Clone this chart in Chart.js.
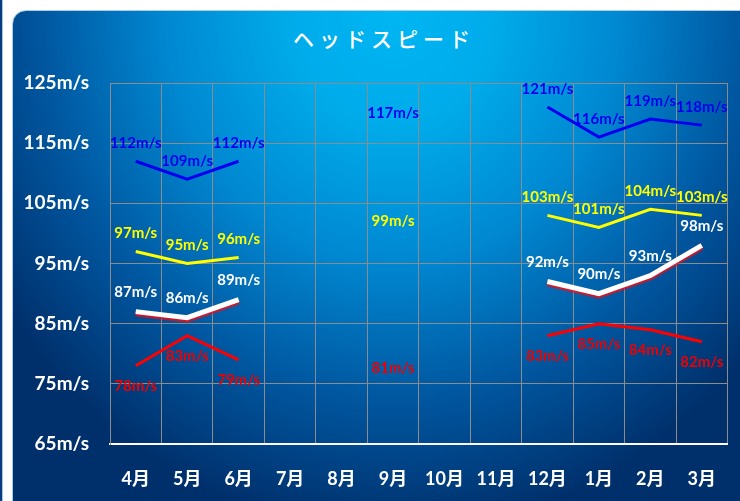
<!DOCTYPE html>
<html>
<head>
<meta charset="utf-8">
<script src="https://cdn.jsdelivr.net/npm/chart.js@4.4.0/dist/chart.umd.min.js"></script>
<style>
  html,body{margin:0;padding:0;background:#fff;overflow:hidden;}
  #wrap{position:relative;width:740px;height:501px;overflow:hidden;background:#fff;}
  #side{position:absolute;left:-12px;top:-10px;width:14px;height:540px;background:#0a3a80;border-right:1px solid #9cc8ee;border-radius:0 10px 10px 0;}
  #card{position:absolute;left:12px;top:10px;width:760px;height:520px;border-radius:14px;border:1px solid #a9cdee;
    background:radial-gradient(ellipse 62% 100% at 50% 0%, #00b6f3 0%, #00abea 22%, #0088d1 48%, #00569f 75%, #00306c 100%);}
  #title{position:absolute;left:0;width:768px;top:23px;text-align:center;color:#fff;font:500 21px 'Noto Sans CJK JP',sans-serif;letter-spacing:5px;}
  canvas{position:absolute;left:0;top:0;}
</style>
</head>
<body>
<div id="wrap">
  <div id="side"></div>
  <div id="card"></div>
  <div id="title">ヘッドスピード</div>
  <canvas id="hs_chart" width="740" height="501"></canvas>
</div>
<script>
/* ---- data ---- */
const months = ['4月','5月','6月','7月','8月','9月','10月','11月','12月','1月','2月','3月'];
const blueVals   = [112,109,112,null,null,117,null,null,121,116,119,118];
const yellowVals = [ 97, 95, 96,null,null, 99,null,null,103,101,104,103];
const whiteVals  = [ 87, 86, 89,null,null,null,null,null, 92, 90, 93, 98];
const redVals    = [ 78, 83, 79,null,null, 81,null,null, 83, 85, 84, 82];
const yMin = 65, yMax = 125, yStep = 10;

Chart.defaults.font.family = "Lato, 'Noto Sans CJK JP', sans-serif";

// value labels above/below each point
const valueLabels = {
  id:'valueLabels',
  afterDatasetsDraw(chart){
    const ctx = chart.ctx;
    ctx.save();
    ctx.font = 'bold 15px Lato, sans-serif';
    ctx.textAlign = 'center';
    ctx.textBaseline = 'middle';
    chart.data.datasets.forEach((ds,i)=>{
      const meta = chart.getDatasetMeta(i);
      ctx.fillStyle = ds.labelColor;
      meta.data.forEach((pt,j)=>{
        const v = ds.data[j];
        if(v===null) return;
        ctx.fillText(v+'m/s', pt.x, pt.y + ds.labelDy);
      });
    });
    ctx.restore();
  }
};

// red shadow under the white line
const whiteShadow = {
  id:'whiteShadow',
  beforeDatasetDraw(chart, args){
    if(chart.data.datasets[args.index].shadow){
      const ctx = chart.ctx;
      ctx.save();
      ctx.shadowColor = '#e8101a';
      ctx.shadowOffsetX = 0;
      ctx.shadowOffsetY = 2;
      ctx.shadowBlur = 2;
    }
  },
  afterDatasetDraw(chart, args){
    if(chart.data.datasets[args.index].shadow) chart.ctx.restore();
  }
};

new Chart(document.getElementById('hs_chart'), {
  type:'line',
  data:{ labels:months, datasets:[
    {data:blueVals, borderColor:'#0000f0', borderWidth:3, labelColor:'#0000f0', labelDy:-18},
    {data:yellowVals, borderColor:'#ffff00', borderWidth:3, labelColor:'#ffff00', labelDy:-18},
    {data:whiteVals, borderColor:'#ffffff', borderWidth:5, labelColor:'#ffffff', labelDy:-19, shadow:true},
    {data:redVals, borderColor:'#ff0000', borderWidth:3, labelColor:'#ee0000', labelDy:20},
  ]},
  options:{
    responsive:false, animation:false, devicePixelRatio:1,
    layout:{padding:{top:83, right:0, bottom:0, left:0}},
    elements:{point:{radius:0, hoverRadius:0}, line:{tension:0, borderCapStyle:'butt', borderJoinStyle:'miter'}},
    spanGaps:false,
    plugins:{legend:{display:false}, tooltip:{enabled:false}, title:{display:false}},
    scales:{
      x:{
        offset:true,
        grid:{offset:true, color:'#8c8c8c', drawTicks:false},
        border:{color:'#ffffff', width:2},
        ticks:{color:'#ffffff', padding:24, font:{size:18, weight:'bold'}},
        afterFit(s){ s.height = 57; }
      },
      y:{
        min:yMin, max:yMax,
        grid:{color:'#8c8c8c', drawTicks:false},
        border:{color:'#8c8c8c'},
        ticks:{stepSize:yStep, color:'#ffffff', padding:21, font:{size:19, weight:'bold'}, callback:v=>v+'m/s'},
        afterFit(s){ s.width = 110; }
      }
    }
  },
  plugins:[valueLabels, whiteShadow]
});
</script>
</body>
</html>
